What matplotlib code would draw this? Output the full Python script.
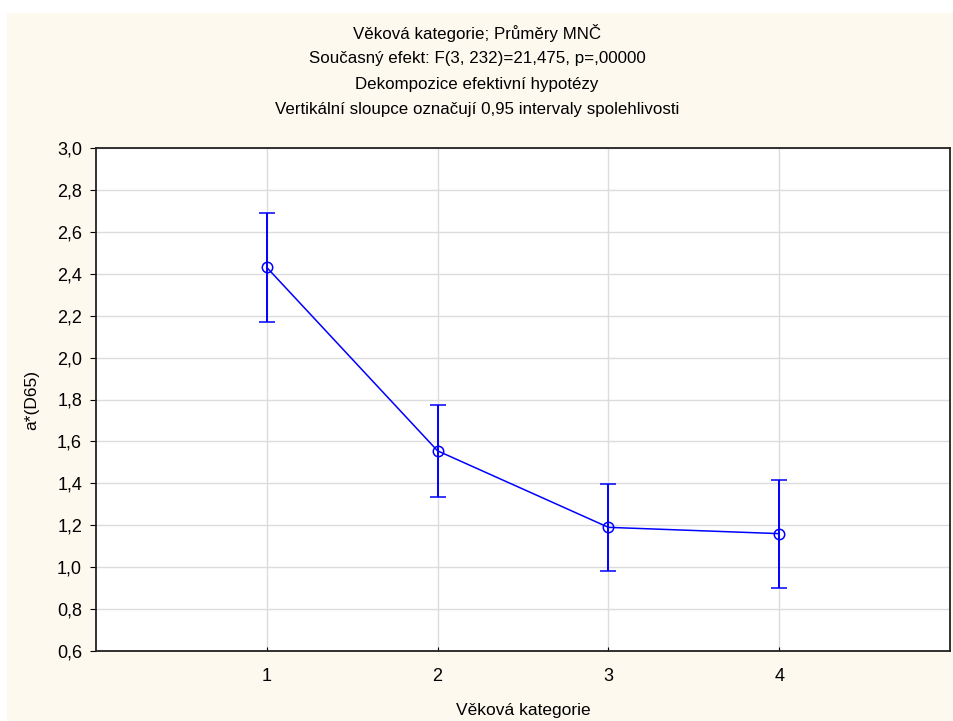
import numpy as np
import matplotlib.pyplot as plt
from matplotlib.patches import Rectangle

plt.rcParams['font.family'] = ['Liberation Sans', 'DejaVu Sans']

# data
categories = [1, 2, 3, 4]
means = [2.43, 1.555, 1.19, 1.16]
ci_low = [2.17, 1.335, 0.98, 0.90]
ci_high = [2.69, 1.772, 1.395, 1.417]
yticks = [0.6, 0.8, 1.0, 1.2, 1.4, 1.6, 1.8, 2.0, 2.2, 2.4, 2.6, 2.8, 3.0]

title_lines = [
    'Věková kategorie; Průměry MNČ',
    'Současný efekt: F(3, 232)=21,475, p=,00000',
    'Dekompozice efektivní hypotézy',
    'Vertikální sloupce označují 0,95 intervaly spolehlivosti',
]

fig = plt.figure(figsize=(9.54, 7.21), dpi=100)
fig.patch.set_facecolor('white')
# cream panel behind everything
fig.patches.append(Rectangle((7 / 954, 0), 1 - 7 / 954, 1 - 13 / 721,
                             transform=fig.transFigure, facecolor='#FDF9EF',
                             edgecolor='none', zorder=-10))

ax = fig.add_axes([96 / 954, 1 - 651 / 721, (950 - 96) / 954, (651 - 148) / 721])
ax.set_facecolor('white')

means = np.array(means)
yerr = np.array([means - np.array(ci_low), np.array(ci_high) - means])
ax.errorbar(categories, means, yerr=yerr, color='#0000FF', lw=1.1,
            elinewidth=1.4, capsize=5.8, capthick=1.4,
            marker='o', markersize=7.5, markerfacecolor='none',
            markeredgecolor='#0000FF', markeredgewidth=1.1, zorder=3)

ax.set_xlim(0, 5)
ax.set_ylim(0.6, 3.0)
ax.set_xticks(categories)
ax.set_yticks(yticks)
ax.set_yticklabels([f'{v:.1f}'.replace('.', ',') for v in yticks])
ax.grid(True, color='#DCDCDC', lw=1.0)
ax.set_axisbelow(True)
ax.tick_params(axis='y', labelsize=13, length=4, color='black', pad=6)
ax.tick_params(axis='x', labelsize=13, length=3, direction='in',
               color='black', pad=12)
for s in ax.spines.values():
    s.set_linewidth(1.3)
    s.set_color('#222222')

ax.set_xlabel('Věková kategorie', fontsize=12.5, labelpad=13)
ax.set_ylabel('a*(D65)', fontsize=12.5, labelpad=13)

for i, line in enumerate(title_lines):
    fig.text(0.5, 1 - (33 + 25.5 * i) / 721, line, ha='center', va='center',
             fontsize=12.2)

fig.savefig('out.png', dpi=100, facecolor=fig.get_facecolor())
